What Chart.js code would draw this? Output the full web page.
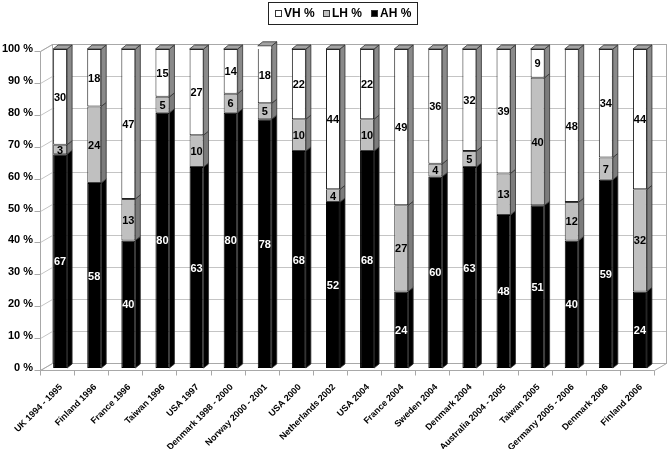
<!DOCTYPE html>
<html>
<head>
<meta charset="utf-8">
<script src="https://cdn.jsdelivr.net/npm/chart.js@4.4.1/dist/chart.umd.min.js"></script>
<style>
  html, body { margin: 0; padding: 0; background: #fff; }
  #wrap { width: 668px; height: 449px; }
</style>
</head>
<body>
<div id="wrap"><canvas id="chart"></canvas></div>
<script>
const categories = [
  "UK 1994 - 1995", "Finland 1996", "France 1996", "Taiwan 1996", "USA 1997",
  "Denmark 1998 - 2000", "Norway 2000 - 2001", "USA 2000", "Netherlands 2002",
  "USA 2004", "France 2004", "Sweden 2004", "Denmark 2004", "Australia 2004 - 2005",
  "Taiwan 2005", "Germany 2005 - 2006", "Denmark 2006", "Finland 2006"
];
const ahValues = [67, 58, 40, 80, 63, 80, 78, 68, 52, 68, 24, 60, 63, 48, 51, 40, 59, 24];
const lhValues = [3, 24, 13, 5, 10, 6, 5, 10, 4, 10, 27, 4, 5, 13, 40, 12, 7, 32];
const vhValues = [30, 18, 47, 15, 27, 14, 18, 22, 44, 22, 49, 36, 32, 39, 9, 48, 34, 44];
const yTicks = [0, 10, 20, 30, 40, 50, 60, 70, 80, 90, 100];

const FONT = 'Arial, "Liberation Sans", sans-serif';

function line(ctx, x1, y1, x2, y2) {
  ctx.beginPath();
  ctx.moveTo(x1, y1);
  ctx.lineTo(x2, y2);
  ctx.stroke();
}
function poly(ctx, pts) {
  ctx.beginPath();
  ctx.moveTo(pts[0][0], pts[0][1]);
  for (let i = 1; i < pts.length; i++) ctx.lineTo(pts[i][0], pts[i][1]);
  ctx.closePath();
  ctx.fill();
  ctx.stroke();
}
const px = v => Math.round(v) + 0.5;

// walls, floor and axis lines behind the bars
const frame3d = {
  id: "frame3d",
  beforeDatasetsDraw(chart) {
    const { ctx } = chart;
    const x = chart.scales.x, y = chart.scales.y;
    const front = p => px(y.getPixelForValue(p) + 2);
    const back = p => px(y.getPixelForValue(p) - 5);
    const fl = px(x.left - 3), fr = px(x.right - 3);
    const bl = px(x.left + 9), br = px(x.right + 9);
    ctx.save();
    ctx.lineWidth = 1;
    ctx.strokeStyle = "#c4c4c4";
    yTicks.forEach(p => {
      line(ctx, fl, front(p), bl, back(p));
      line(ctx, bl, back(p), br, back(p));
    });
    ctx.strokeStyle = "#a8a8a8";
    ctx.strokeRect(bl, back(100), br - bl, back(0) - back(100));
    line(ctx, fl, front(100), bl, back(100));
    line(ctx, fl, front(0), fr, front(0));
    line(ctx, fr, front(0), br, back(0));
    line(ctx, fl, front(0), bl, back(0));
    // front value axis
    line(ctx, fl, front(0), fl, front(100));
    yTicks.forEach(p => line(ctx, fl - 6, front(p), fl, front(p)));
    // category ticks
    const w = (x.right - x.left) / categories.length;
    for (let i = 0; i <= categories.length; i++) {
      const tx = px(x.left - 3 + i * w);
      line(ctx, tx, front(0), tx, front(0) + 5);
    }
    ctx.restore();
  },
  afterDatasetsDraw(chart) {
    const { ctx } = chart;
    ctx.save();
    ctx.lineWidth = 0.8;
    ctx.strokeStyle = "#303030";
    const last = chart.data.datasets.length - 1;
    chart.data.datasets.forEach((ds, di) => {
      const meta = chart.getDatasetMeta(di);
      meta.data.forEach(bar => {
        const { x: cx, y: top, base, width } = bar.getProps(["x", "y", "base", "width"], true);
        const l = cx - width / 2, r = cx + width / 2;
        ctx.fillStyle = ds.sideColor;
        poly(ctx, [[r, top], [r + 5, top - 4], [r + 5, base - 4], [r, base]]);
        if (di === last) {
          ctx.fillStyle = ds.topColor;
          poly(ctx, [[l, top], [l + 5, top - 4], [r + 5, top - 4], [r, top]]);
        }
      });
    });
    // value labels
    ctx.font = "bold 11px " + FONT;
    ctx.textAlign = "center";
    ctx.textBaseline = "middle";
    chart.data.datasets.forEach((ds, di) => {
      const meta = chart.getDatasetMeta(di);
      meta.data.forEach((bar, i) => {
        const { x: cx, y: top, base } = bar.getProps(["x", "y", "base"], true);
        ctx.fillStyle = ds.labelColor;
        ctx.fillText(String(ds.data[i]), cx, (top + base) / 2 + 1);
      });
    });
    ctx.restore();
  },
  afterDraw(chart) {
    const { ctx } = chart;
    ctx.save();
    ctx.strokeStyle = "#222";
    ctx.lineWidth = 1;
    ctx.strokeRect(268.5, 2.5, 149, 22);
    const items = [
      { text: "VH %", color: "#ffffff", x: 275 },
      { text: "LH %", color: "#c0c0c0", x: 323 },
      { text: "AH %", color: "#000000", x: 371 }
    ];
    ctx.font = "bold 12px " + FONT;
    ctx.textBaseline = "middle";
    ctx.textAlign = "left";
    items.forEach(it => {
      ctx.fillStyle = it.color;
      ctx.fillRect(it.x + 0.5, 10.5, 6, 6);
      ctx.strokeStyle = "#333";
      ctx.strokeRect(it.x + 0.5, 10.5, 6, 6);
      ctx.fillStyle = "#000";
      ctx.fillText(it.text, it.x + 9, 14);
    });
    ctx.restore();
  }
};

const chart = new Chart(document.getElementById("chart"), {
  type: "bar",
  data: {
    labels: categories,
    datasets: [
      { label: "AH %", data: ahValues, backgroundColor: "#000000", borderColor: "#000000",
        sideColor: "#000000", topColor: "#000000", labelColor: "#ffffff" },
      { label: "LH %", data: lhValues, backgroundColor: "#c0c0c0", borderColor: "#404040",
        sideColor: "#7c7c7c", topColor: "#a0a0a0", labelColor: "#000000" },
      { label: "VH %", data: vhValues, backgroundColor: "#ffffff", borderColor: "#202020",
        sideColor: "#8a8a8a", topColor: "#a4a4a4", labelColor: "#000000" }
    ]
  },
  options: {
    responsive: true,
    maintainAspectRatio: false,
    animation: false,
    layout: { padding: { top: 49, right: 11, left: 0, bottom: 0 } },
    datasets: {
      bar: { categoryPercentage: 1, barPercentage: 0.41, borderWidth: 1, borderSkipped: false }
    },
    plugins: { legend: { display: false }, tooltip: { enabled: false } },
    scales: {
      x: {
        stacked: true,
        grid: { display: false, drawTicks: false },
        border: { display: false },
        ticks: {
          autoSkip: false, maxRotation: 45, minRotation: 45, padding: 14, labelOffset: 1,
          color: "#000", font: { family: FONT, size: 9, weight: "bold" }
        },
        afterFit: s => { s.height = 81; }
      },
      y: {
        stacked: true,
        min: 0, max: 100,
        grid: { display: false, drawTicks: false },
        border: { display: false },
        ticks: {
          stepSize: 10, padding: 10, color: "#000",
          font: { family: FONT, size: 11, weight: "bold" },
          callback: v => v + " %"
        },
        afterFit: s => { s.width = 43; }
      }
    }
  },
  plugins: [frame3d]
});
</script>
</body>
</html>
